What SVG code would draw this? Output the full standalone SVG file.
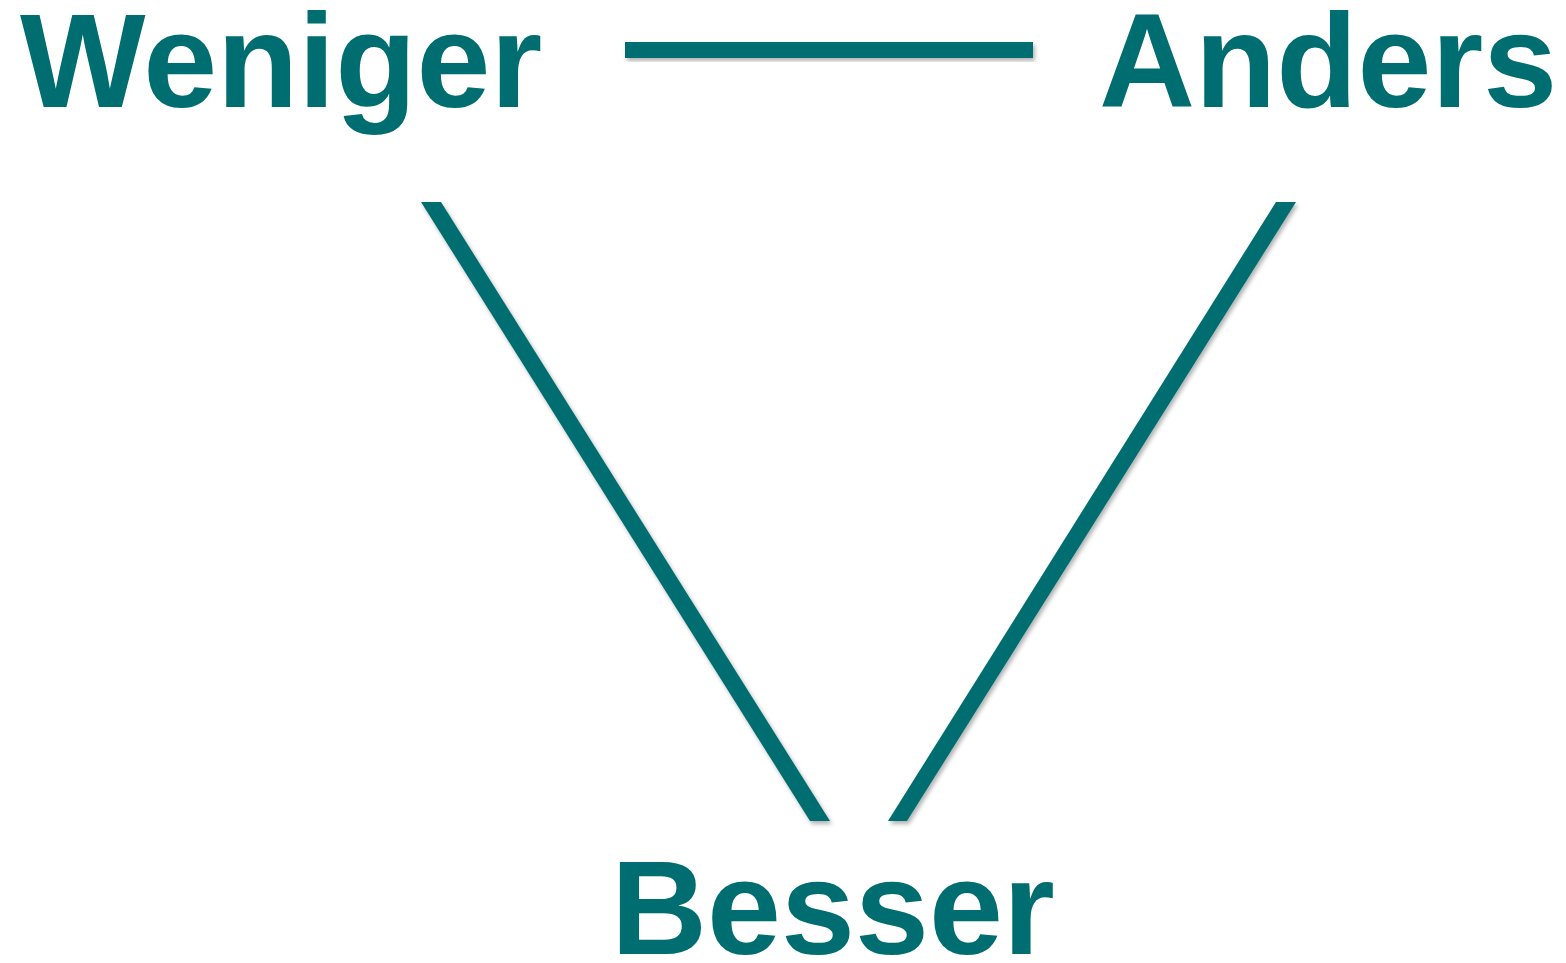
<svg xmlns="http://www.w3.org/2000/svg" width="1566" height="963" viewBox="0 0 1566 963">
<style>
.lbl{font-family:"Liberation Sans",Arial,sans-serif;font-weight:bold;font-size:133px;fill:#006E70}
.con{fill:#006E70;filter:url(#sh)}
</style>
<defs>
<filter id="sh" x="-10%" y="-10%" width="120%" height="130%">
<feDropShadow dx="2" dy="3" stdDeviation="2" flood-color="#000" flood-opacity="0.3"/>
</filter>
</defs>
<rect width="1566" height="963" fill="#fff"/>
<g id="connectors">
<rect class="con" x="625" y="42" width="408" height="16"/>
<polygon class="con" points="421,202 441,202 830,821 810,821"/>
<polygon class="con" points="1276,202 1296,202 907,821 888,821"/>
</g>
<g id="node-weniger"><text class="lbl" x="20" y="107">Weniger</text></g>
<g id="node-anders"><text class="lbl" x="1099" y="107">Anders</text></g>
<g id="node-besser"><text class="lbl" x="611" y="954">Besser</text></g>
</svg>
